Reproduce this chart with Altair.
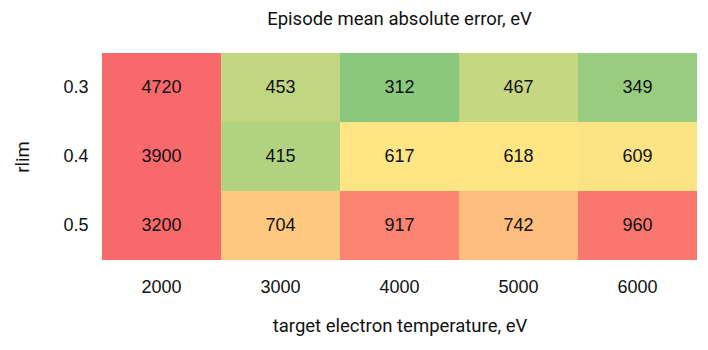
import altair as alt
import pandas as pd

temperatures = [2000, 3000, 4000, 5000, 6000]
rlims = ["0.3", "0.4", "0.5"]
errors = {
    "0.3": [4720, 453, 312, 467, 349],
    "0.4": [3900, 415, 617, 618, 609],
    "0.5": [3200, 704, 917, 742, 960],
}

rows = []
for r in rlims:
    for t, v in zip(temperatures, errors[r]):
        rows.append({"temp": str(t), "rlim": r, "err": v})
df = pd.DataFrame(rows)

color_scale = alt.Scale(
    domain=[312, 618, 1000],
    range=["#8AC97D", "#FFE584", "#F8696B"],
    clamp=True,
    interpolate="rgb",
)

base = alt.Chart(df).encode(
    x=alt.X("temp:O", sort=[str(t) for t in temperatures],
            title="target electron temperature, eV",
            axis=alt.Axis(labelAngle=0, labelPadding=18, labelFontSize=18,
                          labelFont="Liberation Sans", labelColor="#111",
                          titleFont="Roboto", titleFontSize=18.5, titleFontWeight="normal",
                          titleColor="#111", titleY=65, titleBaseline="middle",
                          domain=False, ticks=False)),
    y=alt.Y("rlim:O", sort=rlims, title="rlim",
            axis=alt.Axis(labelPadding=14, labelFontSize=18,
                          labelFont="Liberation Sans", labelColor="#111",
                          titleFont="Roboto", titleFontSize=18.5, titleFontWeight="normal",
                          titleColor="#111", titleX=-80, titleY=103.5,
                          titleAngle=270, titleBaseline="middle", titleAlign="center",
                          domain=False, ticks=False)),
)

rects = base.mark_rect().encode(
    color=alt.Color("err:Q", scale=color_scale, legend=None)
)
texts = base.mark_text(font="Liberation Sans", fontSize=18, color="#111").encode(
    text=alt.Text("err:Q")
)

chart = (rects + texts).properties(
    width=595, height=207,
    title=alt.TitleParams("Episode mean absolute error, eV", font="Roboto",
                          fontSize=18.5, fontWeight="normal", color="#111",
                          anchor="middle", offset=25),
    autosize=alt.AutoSizeParams(type="none"),
    padding={"left": 102, "top": 53, "right": 11, "bottom": 90},
).configure_view(stroke=None).configure_scale(bandPaddingInner=0, bandPaddingOuter=0)

chart.save("out.html", embed_options={"renderer": "svg", "actions": False})
